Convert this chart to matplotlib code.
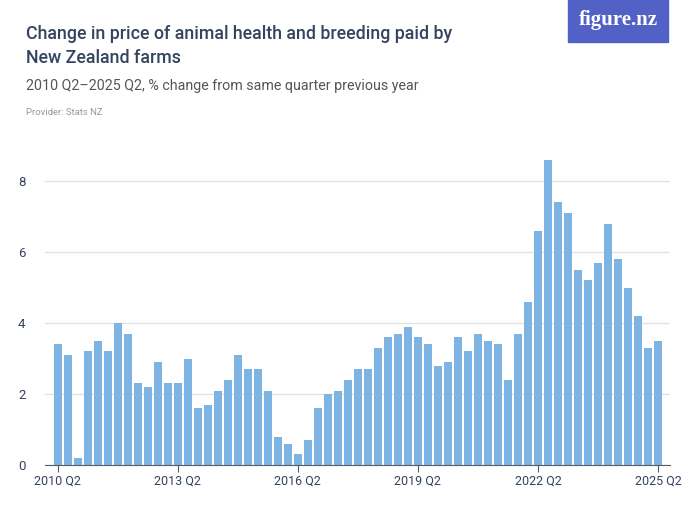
import matplotlib
matplotlib.use("Agg")
import matplotlib.pyplot as plt
from matplotlib.patches import Rectangle

# % change from same quarter previous year, 2010 Q2 .. 2025 Q2
values = [3.4, 3.1, 0.2, 3.2, 3.5, 3.2, 4.0, 3.7, 2.3, 2.2,
          2.9, 2.3, 2.3, 3.0, 1.6, 1.7, 2.1, 2.4, 3.1, 2.7,
          2.7, 2.1, 0.8, 0.6, 0.3, 0.7, 1.6, 2.0, 2.1, 2.4,
          2.7, 2.7, 3.3, 3.6, 3.7, 3.9, 3.6, 3.4, 2.8, 2.9,
          3.6, 3.2, 3.7, 3.5, 3.4, 2.4, 3.7, 4.6, 6.6, 8.6,
          7.4, 7.1, 5.5, 5.2, 5.7, 6.8, 5.8, 5.0, 4.2, 3.3,
          3.5]
tick_pos = [0, 12, 24, 36, 48, 60]
tick_labels = ["2010 Q2", "2013 Q2", "2016 Q2", "2019 Q2", "2022 Q2", "2025 Q2"]
y_ticks = [0, 2, 4, 6, 8]

plt.rcParams['font.family'] = ['Roboto', 'DejaVu Sans']

navy = "#34435f"
fig = plt.figure(figsize=(7, 5.25), dpi=100)
ax = fig.add_axes([0.064, 0.114, 0.893, 0.609])

x = list(range(len(values)))
ax.bar(x, values, width=0.8, color="#7eb4e3", zorder=2)

ax.set_xlim(-1.3, 61.2)
ax.set_ylim(0, 9)
ax.set_yticks(y_ticks)
ax.set_yticklabels([str(v) for v in y_ticks])
ax.set_xticks(tick_pos)
ax.set_xticklabels(tick_labels)
ax.grid(axis="y", color="#e3e3e3", linewidth=1, zorder=0)
for s in ["top", "right", "left"]:
    ax.spines[s].set_visible(False)
ax.spines["bottom"].set_color("#555c66")
ax.tick_params(axis="y", length=0, labelsize=9.5, labelcolor=navy)
ax.tick_params(axis="x", length=5, color="#555c66", labelsize=9, labelcolor=navy, pad=2)
for lbl in ax.get_yticklabels():
    lbl.set_horizontalalignment("left")
    lbl.set_x(-0.035)

fig.text(0.037, 0.952, "Change in price of animal health and breeding paid by\nNew Zealand farms",
         fontsize=12.8, color=navy, fontweight="medium", va="top", linespacing=1.4)
fig.text(0.037, 0.85, "2010 Q2\u20132025 Q2, % change from same quarter previous year",
         fontsize=10.3, color="#555555", va="top")
fig.text(0.037, 0.794, "Provider: Stats NZ", fontsize=6.8, color="#999999", va="top")

fig.patches.append(Rectangle((568 / 700, 1 - 42 / 525), 100 / 700, 42 / 525,
                             transform=fig.transFigure, color="#5161c6"))
fig.text(618 / 700, 1 - 20 / 525, "figure.nz", fontsize=15, color="white",
         ha="center", va="center", family="Liberation Serif", fontweight="bold")

fig.savefig("out.png", dpi=100)
